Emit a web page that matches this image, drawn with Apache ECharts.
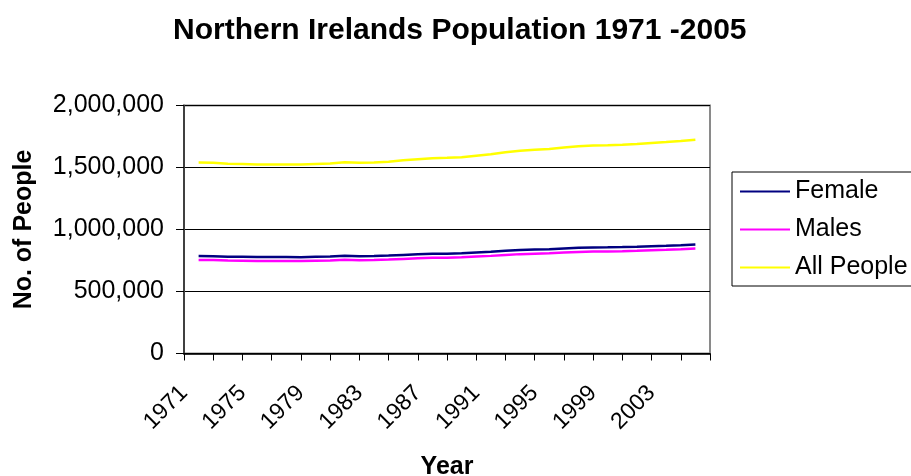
<!DOCTYPE html>
<html>
<head>
<meta charset="utf-8">
<script src="https://cdn.jsdelivr.net/npm/echarts@6/dist/echarts.min.js"></script>
<style>
  html, body { margin: 0; padding: 0; background: #fff; }
  #chart { width: 911px; height: 476px; }
</style>
</head>
<body>
<div id="chart"></div>
<script>
// Mid-year population estimates, Northern Ireland
const years = [1971, 1972, 1973, 1974, 1975, 1976, 1977, 1978, 1979, 1980,
               1981, 1982, 1983, 1984, 1985, 1986, 1987, 1988, 1989, 1990,
               1991, 1992, 1993, 1994, 1995, 1996, 1997, 1998, 1999, 2000,
               2001, 2002, 2003, 2004, 2005];

const female = [786000, 785000, 781000, 779500, 778000, 777500, 777300, 777200, 779500, 782000,
                787500, 785000, 786300, 789800, 795000, 799600, 803800, 805300, 807600, 813900,
                820000, 828000, 834200, 838400, 841000, 847500, 852300, 855600, 856200, 858100,
                861200, 865300, 868900, 873400, 878500];

const males = [754400, 754200, 749400, 748100, 746600, 746000, 745900, 746000, 748500, 750600,
               755500, 753000, 754100, 757500, 762700, 767200, 771400, 772800, 775400, 781700,
               787300, 795300, 801400, 805300, 808000, 814300, 819000, 822200, 822800, 824800,
               828100, 832200, 836000, 840600, 845900];

const allPeople = [1540400, 1539200, 1530400, 1527600, 1524600, 1523500, 1523200, 1523200, 1528000, 1532600,
                   1543000, 1538000, 1540400, 1547300, 1557700, 1566800, 1575200, 1578100, 1583000, 1595600,
                   1607300, 1623300, 1635600, 1643700, 1649000, 1661800, 1671300, 1677800, 1679000, 1682900,
                   1689300, 1697500, 1704900, 1714000, 1724400];

const yearTickLabels = ['1971', '1975', '1979', '1983', '1987', '1991', '1995', '1999', '2003'];
const yTickValues = [0, 500000, 1000000, 1500000, 2000000];

// One slot per year plus a spare, ticks between every second slot
const slotCount = years.length + 1;
const toPoints = arr => arr.map((v, i) => [years[i] - years[0] + 1, v]);

const font = 'Liberation Sans, Arial, sans-serif';
const titleText = 'Northern Irelands Population 1971 -2005';
const titleFont = 'bold 30px ' + font;

// Title is centred on x = 455
const measureCtx = document.createElement('canvas').getContext('2d');
measureCtx.font = titleFont;
const titleLeft = Math.round(455 - measureCtx.measureText(titleText).width / 2);

const chart = echarts.init(document.getElementById('chart'), null, { renderer: 'canvas' });

chart.setOption({
  animation: false,
  backgroundColor: '#ffffff',
  title: {
    text: titleText,
    left: titleLeft,
    top: 11,
    textStyle: { fontFamily: font, fontSize: 30, fontWeight: 'bold', color: '#000' }
  },
  legend: {
    orient: 'vertical',
    left: 732,
    top: 172,
    padding: [7, 14, 6, 8],
    itemGap: 13,
    itemWidth: 50,
    itemHeight: 2,
    icon: 'rect',
    borderColor: '#000',
    borderWidth: 1,
    textStyle: { fontFamily: font, fontSize: 25, color: '#000', lineHeight: 25 },
    data: ['Female', 'Males', 'All People']
  },
  grid: {
    left: 184,
    right: 201,
    top: 105.5,
    bottom: 122.5,
    outerBoundsMode: 'none',
    containLabel: false,
    show: true,
    borderColor: '#8a8a8a',
    borderWidth: 2,
    backgroundColor: '#fff'
  },
  xAxis: {
    type: 'value',
    min: 0,
    max: slotCount,
    interval: 2,
    name: 'Year',
    nameLocation: 'middle',
    nameGap: 101,
    nameTextStyle: { fontFamily: font, fontSize: 25, fontWeight: 'bold', color: '#000' },
    axisLine: { show: true, lineStyle: { color: '#000', width: 1.5 } },
    axisTick: { show: true, length: 7, lineStyle: { color: '#000', width: 1 } },
    splitLine: { show: false },
    axisLabel: {
      rotate: 45,
      margin: 36,
      fontFamily: font,
      fontSize: 23,
      color: '#000',
      showMinLabel: true,
      showMaxLabel: true,
      formatter: v => (v % 4 === 0 && v / 4 < yearTickLabels.length) ? yearTickLabels[v / 4] : ''
    }
  },
  yAxis: {
    type: 'value',
    min: yTickValues[0],
    max: yTickValues[yTickValues.length - 1],
    interval: yTickValues[1] - yTickValues[0],
    name: 'No. of People',
    nameLocation: 'middle',
    nameGap: 147,
    nameTextStyle: { fontFamily: font, fontSize: 25, fontWeight: 'bold', color: '#000' },
    axisLine: { show: true, lineStyle: { color: '#404040', width: 2 } },
    axisTick: { show: true, length: 8, lineStyle: { color: '#000', width: 1 } },
    splitLine: { show: true, lineStyle: { color: '#000', width: 1 } },
    axisLabel: {
      margin: 20,
      fontFamily: font,
      fontSize: 25,
      color: '#000',
      formatter: v => v.toLocaleString('en-US')
    }
  },
  series: [
    {
      name: 'Female', type: 'line', data: toPoints(female),
      showSymbol: false, symbol: 'none',
      lineStyle: { color: '#000080', width: 2.5 }, itemStyle: { color: '#000080' }
    },
    {
      name: 'Males', type: 'line', data: toPoints(males),
      showSymbol: false, symbol: 'none',
      lineStyle: { color: '#ff00ff', width: 2.5 }, itemStyle: { color: '#ff00ff' }
    },
    {
      name: 'All People', type: 'line', data: toPoints(allPeople),
      showSymbol: false, symbol: 'none',
      lineStyle: { color: '#ffff00', width: 2.5 }, itemStyle: { color: '#ffff00' }
    }
  ]
});
</script>
</body>
</html>
